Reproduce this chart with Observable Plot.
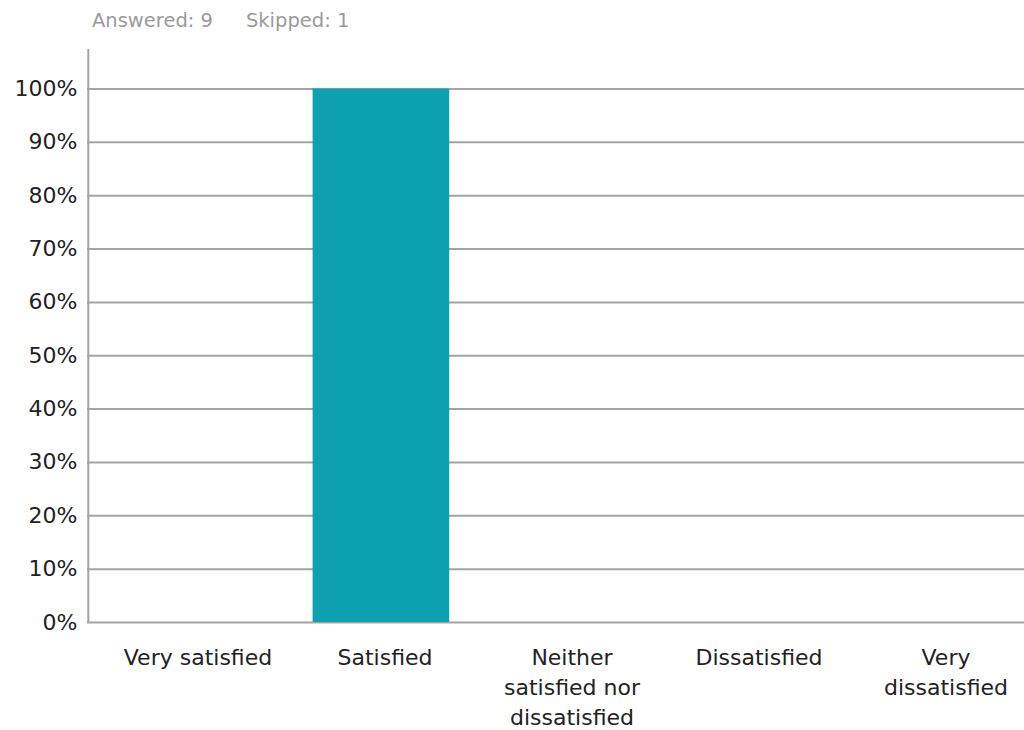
<!DOCTYPE html>
<html>
<head>
<meta charset="utf-8">
<script src="https://cdn.jsdelivr.net/npm/d3@7"></script>
<script src="https://cdn.jsdelivr.net/npm/@observablehq/plot@0.6"></script>
<style>
  html, body { margin: 0; padding: 0; background: #fff; }
  #head { height: 40px; font-family: "DejaVu Sans", sans-serif; font-size: 19.5px; color: #9a9a9a; padding-left: 92px; line-height: 41px; box-sizing: border-box; white-space: nowrap; }
  #head span + span { margin-left: 33px; }
  svg { display: block; }
</style>
</head>
<body>
<div id="head"><span>Answered: 9</span><span>Skipped: 1</span></div>
<div id="chart"></div>
<script>
const categories = ["Very satisfied", "Satisfied", "Neither satisfied nor dissatisfied", "Dissatisfied", "Very dissatisfied"];
const wrappedLabels = ["Very satisfied", "Satisfied", "Neither\nsatisfied nor\ndissatisfied", "Dissatisfied", "Very\ndissatisfied"];
const percents = [0, 100, 0, 0, 0];
const yTicks = [0, 10, 20, 30, 40, 50, 60, 70, 80, 90, 100];

const data = categories.map((c, i) => ({category: c, value: percents[i]}));
const labelOf = new Map(categories.map((c, i) => [c, wrappedLabels[i]]));

const chart = Plot.plot({
  width: 1024,
  height: 690,
  marginLeft: 87,
  marginRight: 0,
  marginTop: 48.5,
  marginBottom: 108,
  style: {fontFamily: "DejaVu Sans, sans-serif", fontSize: "22px", color: "#222", background: "#fff"},
  x: {domain: categories, padding: 0},
  y: {domain: [0, 100]},
  marks: [
    Plot.gridY(yTicks, {stroke: "#a3a3a3", strokeWidth: 2, strokeOpacity: 1}),
    Plot.ruleX([0], {x: () => categories[0], y1: 0, y2: 107.4, stroke: "#a3a3a3", strokeWidth: 2, dx: -93.7}),
    Plot.barY(data, {x: "category", y: "value", fill: "#0ea1b1", insetLeft: 37.6, insetRight: 12.8}),
    Plot.axisY(yTicks, {tickSize: 0, tickPadding: 10, tickFormat: d => d + "%", fill: "#222", fontSize: 22, label: null}),
    Plot.axisX({tickSize: 0, tickPadding: 21, tickFormat: d => labelOf.get(d), lineHeight: 1.36, dx: 16, fill: "#222", fontSize: 22, label: null})
  ]
});
document.getElementById("chart").appendChild(chart);
</script>
</body>
</html>
